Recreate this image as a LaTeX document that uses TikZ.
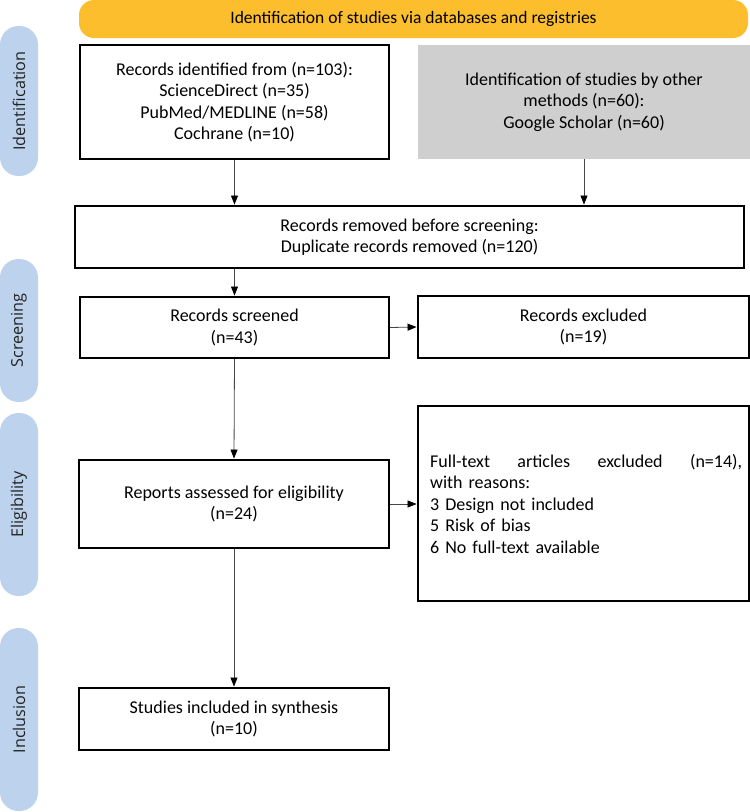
\documentclass[tikz,border=0pt]{standalone}
\usepackage{fontspec}
\setmainfont{Carlito}
\newfontfamily\pillfont{Open Sans}
\usetikzlibrary{arrows.meta}
\definecolor{bannercol}{RGB}{252,190,44}
\definecolor{pillcol}{RGB}{189,210,236}
\definecolor{grayboxcol}{RGB}{208,207,207}
\definecolor{arrowcol}{RGB}{70,70,70}
\definecolor{pilltext}{RGB}{35,35,35}
\begin{document}
\begin{tikzpicture}[x=1pt,y=-1pt,
  boxtext/.style={font=\fontsize{18}{21.5}\selectfont, align=center, text=black},
  flowbox/.style={boxtext, draw=black, line width=1.7pt, fill=white, inner sep=2pt},
  greybox/.style={boxtext, fill=grayboxcol, inner sep=2pt},
  phase/.style={fill=pillcol, rounded corners=18.5pt, rotate=90, minimum height=38pt,
    inner sep=0pt, text=pilltext, font=\pillfont\fontsize{16.2}{18}\selectfont},
  banner/.style={fill=bannercol, rounded corners=15pt, minimum height=38pt, minimum width=669pt,
    inner sep=0pt, font=\fontsize{17.5}{20}\selectfont},
  arr/.style={draw=arrowcol, line width=0.8pt, -{Triangle[length=9pt,width=7pt,color=black]}, shorten >=0.6pt}
]
\useasboundingbox (0,0) rectangle (750,812);

% banner
\node[banner] (top) at (413.5,19) {Identification of studies via databases and registries};

% phase labels
\node[phase, minimum width=150pt] (pid) at (19,101) {Identification};
\node[phase, minimum width=143pt] (psc) at (19,330.5) {Screening};
\node[phase, minimum width=183pt] (pel) at (19,504.5) {Eligibility};
\node[phase, minimum width=183pt] (pin) at (19,719.5) {Inclusion};

% boxes
\node[flowbox, minimum width=309pt, minimum height=114pt] (db) at (234.5,102)
  {Records identified from (n=103):\\ ScienceDirect (n=35)\\ PubMed/MEDLINE (n=58)\\ Cochrane (n=10)};
\node[greybox, minimum width=332pt, minimum height=114pt] (other) at (584,102)
  {Identification of studies by other\\ methods (n=60):\\ Google Scholar (n=60)};
\node[flowbox, minimum width=669pt, minimum height=62pt] (removed) at (409.5,237)
  {Records removed before screening:\\ Duplicate records removed (n=120)};
\node[flowbox, minimum width=309pt, minimum height=61pt] (screened) at (234.5,327.5)
  {Records screened\\ (n=43)};
\node[flowbox, minimum width=331pt, minimum height=62pt] (excluded) at (583.5,327)
  {Records excluded\\ (n=19)};
\node[flowbox, minimum width=310pt, minimum height=88pt] (reports) at (234,504)
  {Reports assessed for eligibility\\ (n=24)};
\node[flowbox, minimum width=331pt, minimum height=195pt] (fulltext) at (583.5,503.5) {};
\node[boxtext, align=left, text width=312pt, inner sep=0pt, anchor=west] (ftext) at (430,503.5)
  {\makebox[312pt][l]{Full-text\hfill articles\hfill excluded\hfill (n=14),}\\ with reasons:\\ 3 Design not included\\ 5 Risk of bias\\ 6 No full-text available};
\node[flowbox, minimum width=310pt, minimum height=62pt] (studies) at (234,719)
  {Studies included in synthesis\\ (n=10)};

% connectors
\draw[arr] (db.south) -- (db.south |- removed.north);
\draw[arr] (other.south) -- (other.south |- removed.north);
\draw[arr] (screened.north |- removed.south) -- (screened.north);
\draw[arr] (screened.east) -- (excluded.west);
\draw[arr] (screened.south) -- (reports.north);
\draw[arr] (reports.east) -- (reports.east -| fulltext.west);
\draw[arr] (reports.south) -- (studies.north);
\end{tikzpicture}
\end{document}
